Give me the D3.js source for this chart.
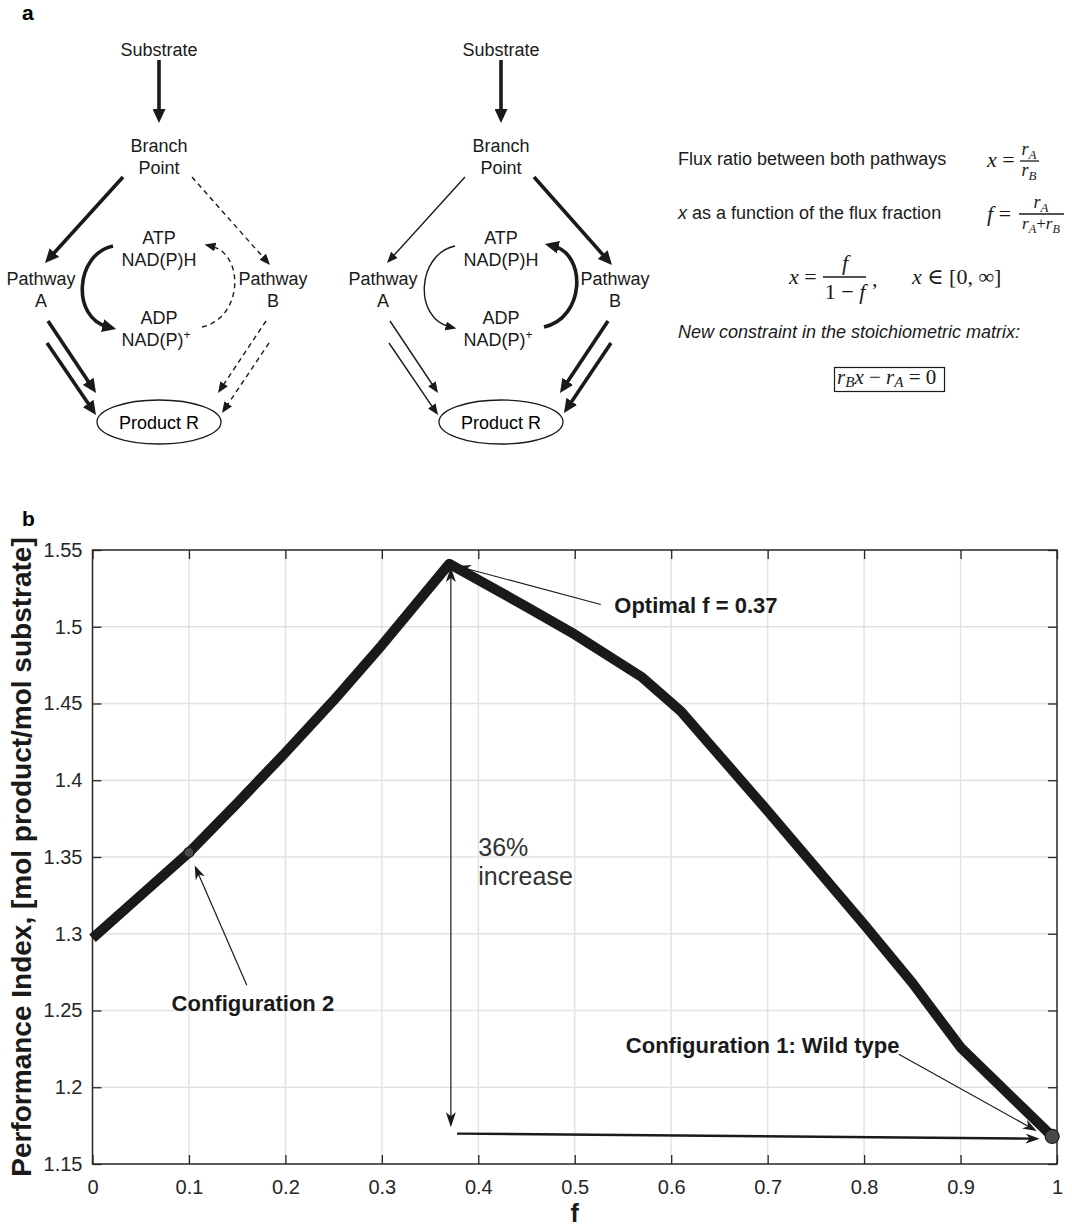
<!DOCTYPE html>
<html>
<head>
<meta charset="utf-8">
<script src="https://cdn.jsdelivr.net/npm/d3@7"></script>
<style>
    body {margin: 0; background: #fff;}
    svg {display: block; font-family: "Liberation Sans", Arial, Helvetica, sans-serif;}
</style>
</head>
<body>
<svg id="fig" width="1072" height="1228"></svg>
<script>
// ---- data ----
const fValues = [0, 0.05, 0.1, 0.15, 0.2, 0.25, 0.3, 0.37, 0.45, 0.5, 0.57, 0.61, 0.7, 0.8, 0.85, 0.9, 0.995];
const piValues = [1.297, 1.325, 1.353, 1.385, 1.418, 1.452, 1.488, 1.541, 1.513, 1.495, 1.467, 1.445, 1.380, 1.306, 1.268, 1.226, 1.168];
const xTicks = [0, 0.1, 0.2, 0.3, 0.4, 0.5, 0.6, 0.7, 0.8, 0.9, 1];
const yTicks = [1.15, 1.2, 1.25, 1.3, 1.35, 1.4, 1.45, 1.5, 1.55];
const configPoints = [
    {f: 0.1, v: 1.353, r: 5},
    {f: 0.995, v: 1.168, r: 7}
];
const optimalF = 0.37;

const svg = d3.select("#fig")
const defs = svg.append("defs")
const ink = "#1a1a1a"

function marker(id, len, half, back) {
    defs.append("marker")
        .attr("id", id)
        .attr("markerUnits", "userSpaceOnUse")
        .attr("viewBox", `0 0 ${len} ${2 * half}`)
        .attr("refX", len * 0.4)
        .attr("refY", half)
        .attr("markerWidth", len)
        .attr("markerHeight", 2 * half)
        .attr("orient", "auto")
        .append("path")
        .attr("d", `M0,0L${len},${half}L0,${2 * half}L${len * back},${half}Z`)
        .attr("fill", ink)
}
marker("headThick", 14, 6.5, 0)
marker("headThin", 11, 4.5, 0)
marker("headPlot", 14, 5, 0.3)

const headLen = {headThick: 14, headThin: 11, headPlot: 14}

// straight arrow, tip lands on (x2, y2)
function arrowLine(g, x1, y1, x2, y2, w, dash, head) {
    const dx = x2 - x1, dy = y2 - y1
    const L = Math.hypot(dx, dy)
    const s = (L - headLen[head] * 0.6) / L
    g.append("line")
        .attr("x1", x1).attr("y1", y1)
        .attr("x2", x1 + dx * s).attr("y2", y1 + dy * s)
        .attr("stroke", ink)
        .attr("stroke-width", w)
        .attr("stroke-dasharray", dash)
        .attr("marker-end", `url(#${head})`)
}

// ---------------- panel a ----------------
svg.append("text").attr("x", 22).attr("y", 20)
    .attr("font-size", 21).attr("font-weight", "bold").text("a")

const styles = {
    thick: {w: 3.6, dash: null, head: "headThick"},
    thin: {w: 1.4, dash: null, head: "headThin"},
    dashed: {w: 1.4, dash: "5,4", head: "headThin"}
}

const schemes = [
    {cx: 159, a: "thick", b: "dashed"},
    {cx: 501, a: "thin", b: "thick"}
]

const schemeLabels = [
    {lines: ["Substrate"], x: 0, y: 49},
    {lines: ["Branch", "Point"], x: 0, y: 145},
    {lines: ["Pathway", "A"], x: -118, y: 278},
    {lines: ["Pathway", "B"], x: 114, y: 278},
    {lines: ["ATP", "NAD(P)H"], x: 0, y: 237},
    {lines: ["ADP", "NAD(P)"], x: 0, y: 317, sup: "+"}
]

schemes.forEach(sc => {
    const g = svg.append("g").attr("transform", `translate(${sc.cx},0)`)

    schemeLabels.forEach(lb => {
        lb.lines.forEach((t, i) => {
            const txt = g.append("text")
                .attr("x", lb.x + (lb.sup && i === 1 ? -3 : 0))
                .attr("y", lb.y + i * 22 + 6.5)
                .attr("text-anchor", "middle")
                .attr("font-size", 18)
                .attr("fill", "#1a1a1a")
                .text(t)
            if (lb.sup && i === 1) {
                txt.append("tspan").attr("font-size", 12).attr("dy", -7).text(lb.sup)
            }
        })
    })

    const A = styles[sc.a], B = styles[sc.b], T = styles.thick

    arrowLine(g, 0, 60, 0, 123, T.w, null, T.head)
    arrowLine(g, -36, 177, -114, 263, A.w, A.dash, A.head)
    arrowLine(g, 33, 177, 111, 265, B.w, B.dash, B.head)

    arrowLine(g, -111, 321, -63, 393, A.w, A.dash, A.head)
    arrowLine(g, -112, 343, -63, 415, A.w, A.dash, A.head)
    arrowLine(g, 107, 321, 59, 393, B.w, B.dash, B.head)
    arrowLine(g, 110, 343, 63, 413, B.w, B.dash, B.head)

    // cofactor cycle
    g.append("path")
        .attr("d", "M-46,246 C-84,254 -88,318 -51,327")
        .attr("fill", "none").attr("stroke", ink)
        .attr("stroke-width", A.w).attr("stroke-dasharray", A.dash)
        .attr("marker-end", `url(#${A.head})`)
    g.append("path")
        .attr("d", "M43,327 C84,318 86,254 52,246")
        .attr("fill", "none").attr("stroke", ink)
        .attr("stroke-width", B.w).attr("stroke-dasharray", B.dash)
        .attr("marker-end", `url(#${B.head})`)

    g.append("ellipse")
        .attr("cx", 0).attr("cy", 422).attr("rx", 62).attr("ry", 22)
        .attr("fill", "#fff").attr("stroke", ink).attr("stroke-width", 1.3)
    g.append("text").attr("x", 0).attr("y", 428.5)
        .attr("text-anchor", "middle").attr("font-size", 18).text("Product R")
})

// ---- equations ----
const eq = svg.append("g").attr("fill", "#1a1a1a")
const mathFont = "'Liberation Serif', 'DejaVu Serif', serif"

eq.append("text").attr("x", 678).attr("y", 165).attr("font-size", 18)
    .text("Flux ratio between both pathways")
const xr = eq.append("text").attr("x", 678).attr("y", 219).attr("font-size", 18)
xr.append("tspan").attr("font-style", "italic").text("x")
xr.append("tspan").text(" as a function of the flux fraction")
eq.append("text").attr("x", 678).attr("y", 338).attr("font-size", 18)
    .attr("font-style", "italic").text("New constraint in the stoichiometric matrix:")

function mtext(x, y, parts, size, anchor, subDrop) {
    const drop = subDrop == null ? 0.22 : subDrop
    const t = eq.append("text").attr("x", x).attr("y", y)
        .attr("font-family", mathFont).attr("font-size", size)
        .attr("text-anchor", anchor || "start")
    parts.forEach(p => {
        const s = t.append("tspan").text(p.t)
        if (p.i) s.attr("font-style", "italic")
        if (p.sub) s.attr("font-size", size * 0.72).attr("dy", size * drop)
        if (p.up) s.attr("dy", -size * drop)
    })
    return t
}
function fracBar(x1, x2, y) {
    eq.append("line").attr("x1", x1).attr("x2", x2).attr("y1", y).attr("y2", y)
        .attr("stroke", "#1a1a1a").attr("stroke-width", 1.3)
}

// x = rA / rB
mtext(987, 167, [{t: "x", i: 1}, {t: " ="}], 22)
fracBar(1020, 1039, 161)
mtext(1029, 155, [{t: "r", i: 1}, {t: "A", i: 1, sub: 1}], 18, "middle")
mtext(1029, 176, [{t: "r", i: 1}, {t: "B", i: 1, sub: 1}], 18, "middle")

// f = rA / (rA + rB)
mtext(987, 221, [{t: "f", i: 1}, {t: " ="}], 22)
fracBar(1019, 1064, 214)
mtext(1041, 208, [{t: "r", i: 1}, {t: "A", i: 1, sub: 1}], 18, "middle")
mtext(1041, 229, [{t: "r", i: 1}, {t: "A", i: 1, sub: 1}, {t: "+", up: 1}, {t: "r", i: 1}, {t: "B", i: 1, sub: 1}], 17, "middle")

// x = f / (1 - f),  x in [0, inf]
mtext(789, 284, [{t: "x", i: 1}, {t: " ="}], 22)
fracBar(823, 866, 277)
mtext(845, 270, [{t: "f", i: 1}], 22, "middle")
mtext(845, 299, [{t: "1 \u2212 "}, {t: "f", i: 1}], 22, "middle")
mtext(872, 286, [{t: ","}], 22)
mtext(912, 284, [{t: "x", i: 1}, {t: " \u2208 [0, \u221E]"}], 22)

eq.append("rect").attr("x", 834.5).attr("y", 367.5).attr("width", 110).attr("height", 24)
    .attr("fill", "none").attr("stroke", "#1a1a1a").attr("stroke-width", 1.2)
mtext(837, 384, [{t: "r", i: 1}, {t: "B", i: 1, sub: 1}, {t: "x", i: 1, up: 1}, {t: " \u2212 "}, {t: "r", i: 1}, {t: "A", i: 1, sub: 1}, {t: " = 0", up: 1}], 21, "start", 0.14)

// ---------------- panel b ----------------
svg.append("text").attr("x", 22).attr("y", 526)
    .attr("font-size", 21).attr("font-weight", "bold").text("b")

const pLeft = 92.5, pRight = 1057, pTop = 550, pBottom = 1164
const x = d3.scaleLinear().domain([0, 1]).range([pLeft, pRight])
const y = d3.scaleLinear().domain([1.15, 1.55]).range([pBottom, pTop])

const plot = svg.append("g")

plot.append("g").selectAll("line").data(xTicks.slice(1, -1)).join("line")
    .attr("x1", d => x(d)).attr("x2", d => x(d)).attr("y1", pTop).attr("y2", pBottom)
    .attr("stroke", "#e2e2e2").attr("stroke-width", 1.4)
plot.append("g").selectAll("line").data(yTicks.slice(1, -1)).join("line")
    .attr("x1", pLeft).attr("x2", pRight).attr("y1", d => y(d)).attr("y2", d => y(d))
    .attr("stroke", "#e2e2e2").attr("stroke-width", 1.4)

const fmt = d => String(d)
const axisStyle = g => {
    g.selectAll("text").attr("font-size", 20).attr("fill", "#262626")
        .attr("font-family", "'Liberation Sans', Arial, sans-serif")
    g.selectAll("line").attr("stroke", "#262626").attr("stroke-width", 1.3)
    g.select(".domain").remove()
}
plot.append("g").attr("transform", `translate(0,${pBottom})`)
    .call(d3.axisBottom(x).tickValues(xTicks).tickFormat(fmt).tickSize(-9).tickPadding(16))
    .call(axisStyle)
plot.append("g").attr("transform", `translate(${pLeft},0)`)
    .call(d3.axisLeft(y).tickValues(yTicks).tickFormat(fmt).tickSize(-9).tickPadding(10))
    .call(axisStyle)
plot.append("g").attr("transform", `translate(0,${pTop})`)
    .call(d3.axisTop(x).tickValues(xTicks).tickFormat("").tickSize(-9))
    .call(axisStyle)
plot.append("g").attr("transform", `translate(${pRight},0)`)
    .call(d3.axisRight(y).tickValues(yTicks).tickFormat("").tickSize(-9))
    .call(axisStyle)

plot.append("rect").attr("x", pLeft).attr("y", pTop)
    .attr("width", pRight - pLeft).attr("height", pBottom - pTop)
    .attr("fill", "none").attr("stroke", "#262626").attr("stroke-width", 1.5)

// annotation arrows behind the curve
const ann = plot.append("g")
arrowLine(ann, x(0.527), y(1.5145), x(0.378), y(1.5395), 1.2, null, "headPlot")

// double arrow for the 36% increase
const vx = x(optimalF) + 1.5
ann.append("line")
    .attr("x1", vx).attr("x2", vx)
    .attr("y1", y(1.539) + 8).attr("y2", y(1.174) - 8)
    .attr("stroke", ink).attr("stroke-width", 1.2)
ann.append("path")
    .attr("d", `M${vx},${y(1.539)} l-5,15 l5,-4 l5,4 Z`).attr("fill", ink)
ann.append("path")
    .attr("d", `M${vx},${y(1.174)} l-5,-15 l5,4 l5,-4 Z`).attr("fill", ink)

arrowLine(ann, x(0.378), y(1.1698), x(0.982), y(1.1665), 2.4, null, "headPlot")
arrowLine(ann, x(0.160), y(1.2665), x(0.106), y(1.3445), 1.2, null, "headPlot")
arrowLine(ann, x(0.836), y(1.2215), x(0.979), y(1.1715), 1.2, null, "headPlot")

const line = d3.line().x((d, i) => x(fValues[i])).y(d => y(d))
plot.append("path")
    .attr("d", line(piValues))
    .attr("fill", "none")
    .attr("stroke", ink)
    .attr("stroke-width", 10)
    .attr("stroke-linejoin", "round")

plot.selectAll("circle.cfg").data(configPoints).join("circle")
    .attr("class", "cfg")
    .attr("cx", d => x(d.f)).attr("cy", d => y(d.v)).attr("r", d => d.r)
    .attr("fill", "#4a4a4a").attr("stroke", ink).attr("stroke-width", 1.2)

// labels
const lab = plot.append("g").attr("font-weight", "bold").attr("font-size", 22).attr("fill", "#1a1a1a")
lab.append("text").attr("x", x(0.541)).attr("y", y(1.514) + 8).text("Optimal f = 0.37")
lab.append("text").attr("x", x(0.082)).attr("y", y(1.255) + 8).text("Configuration 2")
lab.append("text").attr("x", x(0.553)).attr("y", y(1.2275) + 8).text("Configuration 1: Wild type")

const inc = plot.append("g").attr("font-size", 25).attr("fill", "#333")
inc.append("text").attr("x", x(0.400)).attr("y", y(1.3505)).text("36%")
inc.append("text").attr("x", x(0.400)).attr("y", y(1.3315)).text("increase")

svg.append("text")
    .attr("transform", `translate(31,${(pTop + pBottom) / 2}) rotate(-90)`)
    .attr("text-anchor", "middle")
    .attr("font-size", 28).attr("font-weight", "bold").attr("fill", "#1a1a1a")
    .text("Performance Index, [mol product/mol substrate]")

svg.append("text").attr("x", (pLeft + pRight) / 2).attr("y", 1222)
    .attr("text-anchor", "middle").attr("font-size", 25).attr("font-weight", "bold")
    .attr("fill", "#1a1a1a").text("f")
</script>
</body>
</html>
